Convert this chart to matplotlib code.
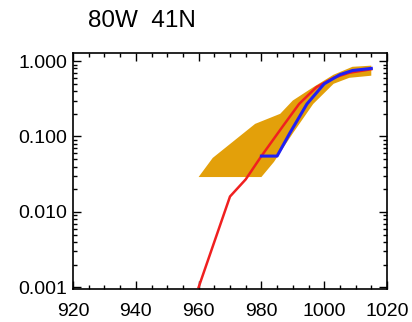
import numpy as np
import matplotlib
matplotlib.use("Agg")
from matplotlib import pyplot as plt
from matplotlib.ticker import MultipleLocator, LogLocator, NullFormatter, FixedLocator

# data
red_x = [960, 970, 975, 980, 987, 992, 997.5, 1003, 1008, 1015]
red_y = [0.001, 0.016, 0.027, 0.055, 0.14, 0.27, 0.45, 0.6, 0.7, 0.78]

blue_x = [980, 985, 989, 994.5, 1000, 1005, 1009, 1015]
blue_y = [0.055, 0.055, 0.11, 0.27, 0.5, 0.66, 0.75, 0.8]

band_x = [960, 964.5, 978, 986, 990, 996.5, 1003, 1009, 1015]
band_hi = [0.029, 0.052, 0.147, 0.2, 0.3, 0.45, 0.66, 0.84, 0.87]
band_lo_x = [960, 980, 984, 990, 996.5, 1003, 1008, 1015]
band_lo = [0.029, 0.029, 0.046, 0.11, 0.27, 0.5, 0.6, 0.64]

title = "80W  41N"
ytick_vals = [0.001, 0.01, 0.1, 1.0]
ytick_labels = ["0.001", "0.010", "0.100", "1.000"]

plt.rcParams['font.family'] = ['Liberation Sans', 'DejaVu Sans']

fig = plt.figure(figsize=(4.12, 3.22), dpi=100)
ax = fig.add_axes([73/412, 1-289/322, (387-73)/412, (289-53)/322])

# orange envelope
poly_x = list(band_x) + list(band_lo_x[::-1])
poly_y = list(band_hi) + list(band_lo[::-1])
ax.fill(poly_x, poly_y, color='#E3A00A', lw=0)

ax.plot(red_x, red_y, color='#F02020', lw=1.8)
ax.plot(blue_x, blue_y, color='#2020F5', lw=2.2)

ax.set_yscale('log')
ax.set_xlim(920, 1020)
ax.set_ylim(0.00095, 1.28)

ax.xaxis.set_major_locator(MultipleLocator(20))
ax.xaxis.set_minor_locator(MultipleLocator(5))
ax.yaxis.set_major_locator(FixedLocator(ytick_vals))
ax.set_yticklabels(ytick_labels)
ax.yaxis.set_minor_locator(LogLocator(base=10, subs=np.arange(2, 10)))
ax.yaxis.set_minor_formatter(NullFormatter())

ax.tick_params(which='both', direction='in', top=True, right=True,
               labelsize=14, width=1, color='black')
ax.tick_params(axis='x', pad=10)
ax.tick_params(axis='y', pad=4)
ax.tick_params(which='major', length=6)
ax.tick_params(which='minor', length=3)
for s in ax.spines.values():
    s.set_linewidth(1.2)

fig.text(88/412, 1-21/322, title, fontsize=17.5, ha='left', va='center')

fig.savefig("out.png", dpi=100)
